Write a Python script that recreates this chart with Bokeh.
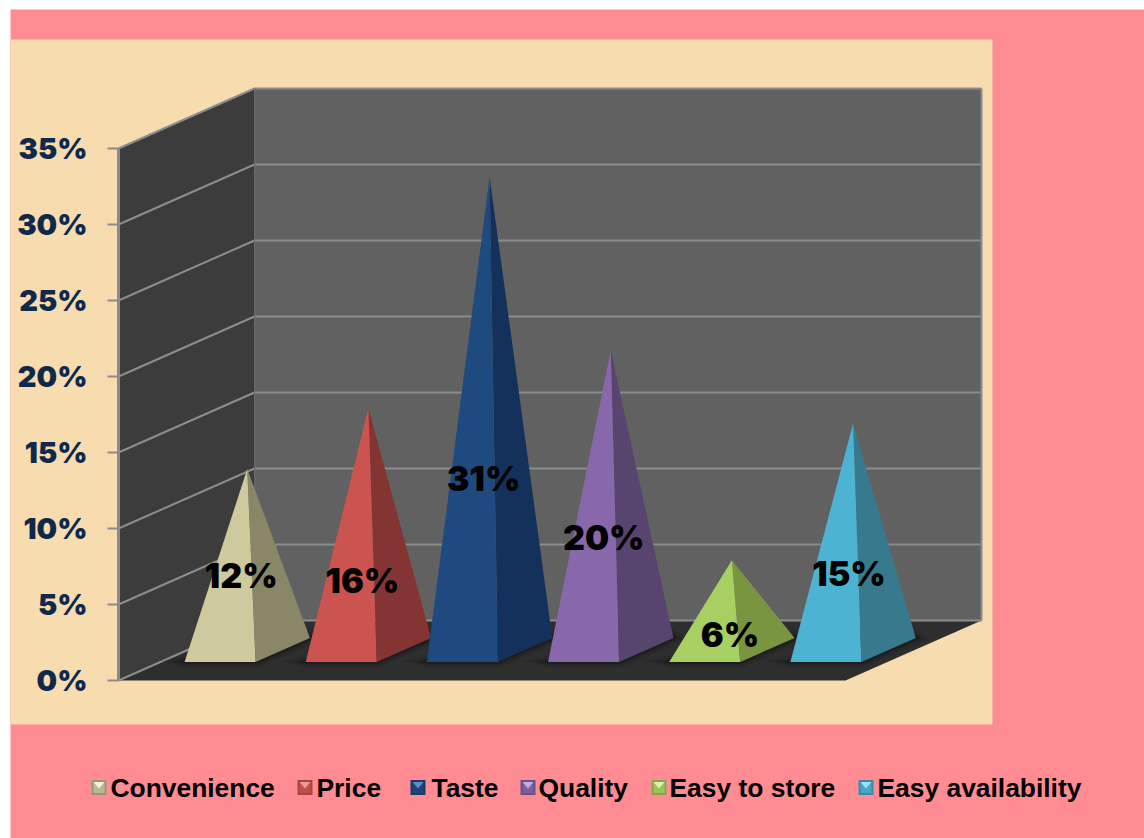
from bokeh.plotting import figure
from bokeh.models import Range1d, LinearAxis, FixedTicker, PrintfTickFormatter
from bokeh.core.properties import value
from bokeh.embed import file_html
from bokeh.resources import INLINE

# ---- data
categories = ["Convenience", "Price", "Taste", "Quality", "Easy to store", "Easy availability"]
shares = [11.9, 15.9, 31.1, 19.7, 5.9, 14.9]
tick_values = [0, 5, 10, 15, 20, 25, 30, 35]

# ---- styles
front_colors = ["#CFC99E", "#CB5450", "#1F4A80", "#8867AB", "#A8CF62", "#4DB3D2"]
side_colors = ["#8A8668", "#843433", "#13315A", "#57446F", "#7A9540", "#387A8D"]
legend_edge = ["#9A9678", "#A84440", "#173A66", "#6A5088", "#86A64A", "#3A8CA6"]
legend_hi = ["#F4F2DC", "#F09A94", "#5B8CCB", "#C4ACE2", "#DCF2A4", "#98E2F6"]
PINK, PEACH = "#FF8B93", "#F6DCAE"
WALL, SIDE, FLOOR, GRID = "#616161", "#3C3C3C", "#2E2E2E", "#8C8C8C"
AXIS_TEXT = "#10294A"

# ---- layout (page pixels; 15.2 px per percentage point)
W, H = 1144, 838
PX = 15.2
Y0 = 680            # pixel row of 0 %
X0, X1 = 118, 845   # front edge of the floor
DX, DY = 136, 60    # depth vector of the 3-D box
BASE_W = 71
D_FRONT, D_BACK = 0.31, 0.71
label_dx = [20, 20, 20, 19, 24, 22]
label_frac = [0.45, 0.32, 0.379, 0.40, 0.267, 0.37]
legend_x = [91, 297, 410, 520, 651, 858]
legend_text_x = [110, 316, 431, 538, 669, 877]
LEG_Y, SW = 787, 15


def vy(px):
    """page row -> value"""
    return (Y0 - px) / PX


def proj(x, depth, v):
    """box coordinates (front x, depth 0..1, value) -> x, value"""
    return x + DX * depth, v + DY * depth / PX


p = figure(width=W, height=H, output_backend="svg", toolbar_location=None,
           x_range=Range1d(0, W), y_range=Range1d(vy(H), vy(0)),
           x_axis_type=None, y_axis_type=None, min_border=0,
           background_fill_color="white", border_fill_color="white", outline_line_color=None)
p.xgrid.visible = False
p.ygrid.visible = False


def poly(pts, color, **kw):
    p.patch([a for a, _ in pts], [b for _, b in pts], fill_color=color, line_color=kw.pop("line", None), **kw)


# page bands
poly([(10, vy(9)), (W, vy(9)), (W, vy(H)), (10, vy(H))], PINK)
poly([(10, vy(39)), (992, vy(39)), (992, vy(724)), (10, vy(724))], PEACH)

# box
TOP = tick_values[-1]
poly([proj(X0, 0, 0), proj(X0, 1, 0), proj(X0, 1, TOP), proj(X0, 0, TOP)], SIDE)
poly([proj(X0, 1, 0), proj(X1, 1, 0), proj(X1, 1, TOP), proj(X0, 1, TOP)], WALL)
poly([proj(X0, 0, 0), proj(X1, 0, 0), proj(X1, 1, 0), proj(X0, 1, 0)], FLOOR)

# grid lines on both walls
for t in tick_values:
    a, b, c = proj(X0, 0, t), proj(X0, 1, t), proj(X1, 1, t)
    p.line([a[0], b[0], c[0]], [a[1], b[1], c[1]], line_color=GRID, line_width=2)
a, b = proj(X1, 1, 0), proj(X1, 1, TOP)
p.line([a[0], b[0]], [a[1], b[1]], line_color=GRID, line_width=2)
a, b = proj(X0, 1, 0), proj(X0, 1, TOP)
p.line([a[0], b[0]], [a[1], b[1]], line_color="#6A6A6A", line_width=1)

# pyramids
slot = (X1 - X0) / len(categories)
for i, v in enumerate(shares):
    xl = X0 + slot * i + (slot - BASE_W) / 2 - 1.2
    xr = xl + BASE_W
    fl, fr = proj(xl, D_FRONT, 0), proj(xr, D_FRONT, 0)
    br, bl = proj(xr, D_BACK, 0), proj(xl, D_BACK, 0)
    apex = proj((xl + xr) / 2, (D_FRONT + D_BACK) / 2, v)
    # soft contact shadow on the floor
    for grow, alpha in ((10, 0.08), (6, 0.12), (3, 0.18)):
        g = grow / PX
        poly([(fl[0] - grow * 2.5, fl[1] + g * 0.1), (fl[0], fl[1] - g * 0.6), (fr[0] + grow * 0.2, fr[1] - g * 0.6),
              (br[0] + grow * 1.5, br[1] - g * 0.1), (br[0], br[1] + g)], "#000000", fill_alpha=alpha)
    poly([fr, br, apex], side_colors[i])
    poly([fl, fr, apex], front_colors[i])

# value labels
base_v = proj(0, D_FRONT, 0)[1]
p.text([X0 + slot * i + slot / 2 + label_dx[i] + DX * D_FRONT for i in range(len(shares))],
       [base_v + (proj(0, (D_FRONT + D_BACK) / 2, v)[1] - base_v) * label_frac[i]
        for i, v in enumerate(shares)],
       text=[f"{round(v)}%" for v in shares], text_color="#000000",
       text_font=value("Inter Black"), text_font_style="bold", text_font_size="34px",
       text_align="center", text_baseline="middle")

# legend
for i, name in enumerate(categories):
    l, r, t, b = legend_x[i], legend_x[i] + SW, vy(LEG_Y - SW / 2), vy(LEG_Y + SW / 2)
    e = 2 / PX
    m = (l + r) / 2
    poly([(l, t), (r, t), (r, b), (l, b)], legend_edge[i])
    poly([(l + 2, t - e), (r - 2, t - e), (r - 2, b + e), (l + 2, b + e)], front_colors[i], fill_alpha=0.65)
    poly([(l + 2, t - e), (r - 2, t - e), (m, t - 4.2 * e)], legend_hi[i])
p.text(legend_text_x, [vy(LEG_Y)] * len(categories), text=categories, text_color="#000000",
       text_font=value("Liberation Sans"), text_font_style="bold", text_font_size="26.4px",
       text_align="left", text_baseline="middle")

# value axis drawn through the box's front-left edge
axis = LinearAxis(fixed_location=X0, bounds=(0, TOP),
                  ticker=FixedTicker(ticks=tick_values),
                  formatter=PrintfTickFormatter(format="%d%%"))
axis.axis_line_color = GRID
axis.axis_line_width = 3
axis.major_tick_line_color = GRID
axis.major_tick_line_width = 2
axis.major_tick_out = 11
axis.major_tick_in = 0
axis.minor_tick_line_color = None
axis.major_label_standoff = 20
axis.major_label_text_color = AXIS_TEXT
axis.major_label_text_font = "Inter Black"
axis.major_label_text_font_style = "bold"
axis.major_label_text_font_size = "29px"
p.add_layout(axis, "left")

open("out.html", "w").write(file_html(p, INLINE))
